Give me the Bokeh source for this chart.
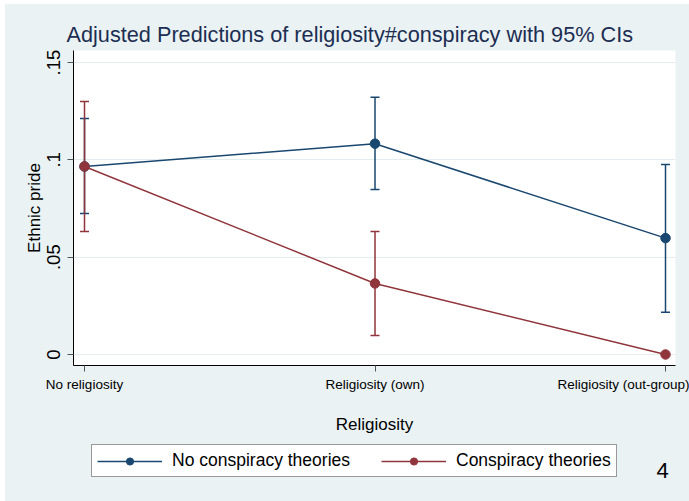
from bokeh.plotting import figure
from bokeh.layouts import column
from bokeh.models import (FixedTicker, CustomJSTickFormatter, Legend, LegendItem,
                          Label, ColumnDataSource, Range1d)
from bokeh.embed import file_html
from bokeh.resources import INLINE

# Margins at means: ethnic pride by religiosity and conspiracy belief
categories = ["No religiosity", "Religiosity (own)", "Religiosity (out-group)"]
series_names = ["No conspiracy theories", "Conspiracy theories"]

no_consp_mean = [0.0966, 0.1083, 0.0598]
no_consp_lo = [0.0725, 0.0848, 0.0217]
no_consp_hi = [0.1213, 0.1322, 0.0976]

consp_mean = [0.0966, 0.0365, 0.0]
consp_lo = [0.0632, 0.0098, 0.0]
consp_hi = [0.1300, 0.0632, 0.0]

y_ticks = [0, 0.05, 0.10, 0.15]
slide_number = "4"

NAVY = "#1a476f"
MAROON = "#90353b"
BG = "#eaf2f3"
FONT = "Liberation Sans"
X_RANGE = (-0.0379, 2.0344)

# ---- main plot -------------------------------------------------------------
p = figure(width=684, height=436, output_backend="svg", toolbar_location=None,
           x_range=Range1d(*X_RANGE), y_range=Range1d(-0.00565, 0.1562),
           min_border_left=68, min_border_right=14, min_border_top=46,
           min_border_bottom=75)
p.background_fill_color = "white"
p.border_fill_color = BG
p.outline_line_color = None

p.title.text = "Adjusted Predictions of religiosity#conspiracy with 95% CIs"
p.title.text_font = FONT
p.title.text_font_size = "21.7px"
p.title.text_font_style = "normal"
p.title.text_color = "#1c2e52"
p.title.align = "left"
p.title.offset = -7
p.title.standoff = 8

xs = list(range(len(categories)))

# y axis
p.yaxis.ticker = FixedTicker(ticks=y_ticks)
p.yaxis.formatter = CustomJSTickFormatter(code="""
    if (tick == 0) return '0';
    const s = (+tick.toFixed(2)).toString();
    return s.replace(/^0/, '');
""")
p.yaxis.major_label_orientation = "vertical"
p.yaxis.major_label_text_font_size = "18.5px"
p.yaxis.major_label_standoff = 7
p.yaxis.axis_label = "Ethnic pride"
p.yaxis.axis_label_standoff = 1

# x axis
p.xaxis.ticker = FixedTicker(ticks=xs)
p.xaxis.major_label_overrides = {i: c for i, c in enumerate(categories)}
p.xaxis.major_label_text_font_size = "13.5px"
p.xaxis.major_label_standoff = 5
p.xaxis.axis_label = "Religiosity"
p.xaxis.axis_label_standoff = 20

for ax in (p.xaxis, p.yaxis):
    ax.major_label_text_font = FONT
    ax.major_label_text_color = "black"
    ax.axis_label_text_font = FONT
    ax.axis_label_text_font_size = "17px"
    ax.axis_label_text_font_style = "normal"
    ax.axis_label_text_color = "black"
    ax.axis_line_color = "black"
    ax.axis_line_width = 1
    ax.major_tick_line_color = "#555555"
    ax.major_tick_in = 0
    ax.major_tick_out = 6
    ax.minor_tick_line_color = None

p.xgrid.grid_line_color = None
p.ygrid.ticker = FixedTicker(ticks=y_ticks)
p.ygrid.grid_line_color = "#e3ecef"
p.ygrid.grid_line_width = 1

# confidence intervals, then connected point estimates
series = [
    (no_consp_mean, no_consp_lo, no_consp_hi, NAVY),
    (consp_mean, consp_lo, consp_hi, MAROON),
]
for mean, lo, hi, col in series:
    src = ColumnDataSource(dict(x=xs, lo=lo, hi=hi))
    p.segment(x0="x", y0="lo", x1="x", y1="hi", source=src,
              line_color=col, line_width=1.5)
    p.scatter(x="x", y="lo", source=src, marker="dash", size=9,
              line_color=col, line_width=1.5)
    p.scatter(x="x", y="hi", source=src, marker="dash", size=9,
              line_color=col, line_width=1.5)

for mean, lo, hi, col in series:
    p.line(xs, mean, line_color=col, line_width=1.5)
    p.scatter(xs, mean, size=9.5, fill_color=col, line_color=col)

# ---- legend strip underneath ------------------------------------------------
# Same horizontal scale as the plot; its vertical window sits above the data,
# so the key renderers only serve as legend swatches.
s = figure(width=684, height=61, output_backend="svg", toolbar_location=None,
           x_range=Range1d(*X_RANGE), y_range=Range1d(1, 2),
           x_axis_location=None, y_axis_location=None,
           min_border_left=68, min_border_right=14,
           min_border_top=0, min_border_bottom=0)
s.title.visible = False
s.background_fill_color = BG
s.border_fill_color = BG
s.outline_line_color = None
s.grid.grid_line_color = None

items = []
for (mean, lo, hi, col), name in zip(series, series_names):
    r_line = s.line(xs, mean, line_color=col, line_width=1.5)
    r_pts = s.scatter(xs, mean, size=9.5, fill_color=col, line_color=col)
    items.append(LegendItem(label=name, renderers=[r_line, r_pts]))

legend = Legend(items=items, orientation="horizontal", location=(18, 24))
legend.label_text_font = FONT
legend.label_text_font_size = "17.5px"
legend.label_text_color = "black"
legend.glyph_width = 65
legend.glyph_height = 18
legend.label_standoff = 10
legend.spacing = 31
legend.padding = 5
legend.margin = 0
legend.border_line_color = "#333333"
legend.border_line_width = 1
legend.background_fill_color = "white"
legend.background_fill_alpha = 1
s.add_layout(legend, "center")

s.add_layout(Label(x=1.99, y=1.516, text=slide_number, text_font=FONT,
                   text_font_size="22px", text_color="black",
                   text_align="center", text_baseline="middle"))

page = column(p, s, spacing=0, styles={"background-color": BG})
page.margin = (4, 0, 0, 5)

open("out.html", "w").write(file_html(page, INLINE))
